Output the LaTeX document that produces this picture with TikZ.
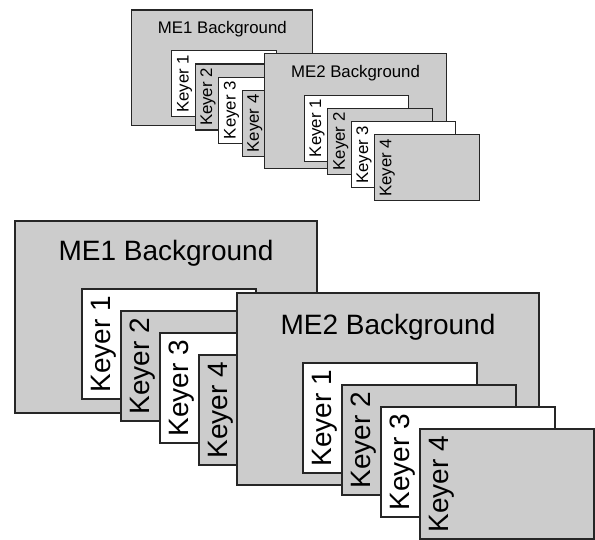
\documentclass[tikz,border=0pt]{standalone}
\usepackage{fontspec}
\setmainfont{Liberation Sans}
\definecolor{panel}{gray}{0.8}
\definecolor{edge}{gray}{0.15}
\tikzset{
  bgbox/.style={draw=edge, fill=panel, minimum width=302pt, minimum height=192pt, anchor=north west, inner sep=0pt, outer sep=0pt},
  keywhite/.style={draw=edge, fill=white, minimum width=174pt, minimum height=110pt, anchor=north west, inner sep=0pt, outer sep=0pt},
  keygray/.style={keywhite, fill=panel},
  keylabel/.style={rotate=90, anchor=north, inner sep=0pt, font=\fontsize{28}{30}\selectfont},
  bglabel/.style={anchor=base, inner sep=0pt, font=\fontsize{28}{30}\selectfont},
}
% #1 name, #2 x, #3 y, #4 style, #5 text
\newcommand{\keyerbox}[5]{%
  \node[#4] (#1) at (#2,#3) {};
  \node[keylabel] (#1t) at (#2+8,#3+55) {#5};
}
% #1 prefix
\newcommand{\mixset}[1]{%
  \node[bgbox] (#1me1) at (0,0) {};
  \node[bglabel] (#1me1t) at (151,39) {ME1 Background};
  \keyerbox{#1ka}{67}{68}{keywhite}{Keyer 1}
  \keyerbox{#1kb}{106}{90}{keygray}{Keyer 2}
  \keyerbox{#1kc}{145}{112}{keywhite}{Keyer 3}
  \keyerbox{#1kd}{184}{134}{keygray}{Keyer 4}
  \node[bgbox] (#1me2) at (222,72) {};
  \node[bglabel] (#1me2t) at (373,113) {ME2 Background};
  \keyerbox{#1kA}{288}{142}{keywhite}{Keyer 1}
  \keyerbox{#1kB}{327}{164}{keygray}{Keyer 2}
  \keyerbox{#1kC}{366}{186}{keywhite}{Keyer 3}
  \keyerbox{#1kD}{405}{208}{keygray}{Keyer 4}
}
\begin{document}
\begin{tikzpicture}[x=1pt,y=-1pt]
\useasboundingbox (0,0) rectangle (595,539);
\begin{scope}[shift={(131.7,10)}, scale=0.6, transform shape, line width=1.1pt]
  \mixset{s}
\end{scope}
\begin{scope}[shift={(15,221)}, line width=1.6pt]
  \mixset{b}
\end{scope}
\end{tikzpicture}
\end{document}
